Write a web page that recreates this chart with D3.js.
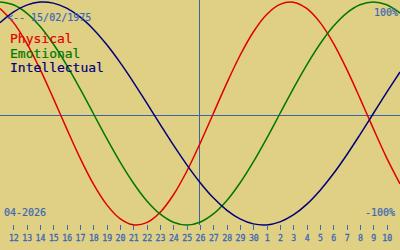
<!DOCTYPE html>
<html>
<head>
<meta charset="utf-8">
<script src="https://cdn.jsdelivr.net/npm/d3@7"></script>
<style>
  html, body { margin: 0; padding: 0; background: #e0d084; }
  svg { display: block; }
  text { font-family: "DejaVu Sans Mono", "Liberation Mono", monospace; }
</style>
</head>
<body>
<svg id="chart" width="400" height="250"></svg>
<script>
// Day labels along the x axis (April 12 .. May 10, 2026)
const dayLabels = ["12","13","14","15","16","17","18","19","20","21","22","23","24","25","26","27","28","29","30","1","2","3","4","5","6","7","8","9","10"];
// Sample positions (day index relative to first label; -1 and 29 are the off-axis edges)
const sampleIdx = [-1,0,1,2,3,4,5,6,7,8,9,10,11,12,13,14,15,16,17,18,19,20,21,22,23,24,25,26,27,28,29];
// Series values (fraction of 100%) per day
const physical = [0.942,0.817,0.631,0.398,0.136,-0.136,-0.398,-0.631,-0.817,-0.942,-0.998,-0.979,-0.888,-0.731,-0.520,-0.270,0.000,0.270,0.520,0.731,0.888,0.979,0.998,0.942,0.817,0.631,0.398,0.136,-0.136,-0.398,-0.631];
const emotional = [1.000,0.975,0.901,0.782,0.623,0.434,0.223,0.000,-0.223,-0.434,-0.623,-0.782,-0.901,-0.975,-1.000,-0.975,-0.901,-0.782,-0.623,-0.434,-0.223,0.000,0.223,0.434,0.623,0.782,0.901,0.975,1.000,0.975,0.901];
const intellectual = [0.815,0.910,0.972,0.999,0.990,0.945,0.866,0.756,0.618,0.458,0.282,0.095,-0.095,-0.282,-0.458,-0.618,-0.756,-0.866,-0.945,-0.990,-0.999,-0.972,-0.910,-0.815,-0.690,-0.541,-0.372,-0.189,0.000,0.189,0.372];
const seriesNames = ["Physical","Emotional","Intellectual"];
const todayIdx = 14; // 26 April
const birthLabel = "<-- 15/02/1975";
const monthLabel = "04-2026";
const topLabel = "100%";
const bottomLabel = "-100%";

const W = 400, H = 250;
const colors = ["#e00000", "#007800", "#00007c"];
const axisBlue = "#3a68b8";
const lineBlue = "#3a64a8";

const svg = d3.select("#chart");
svg.append("rect").attr("width", W).attr("height", H).attr("fill", "#e0d084");

const x = d3.scaleLinear().domain([-1, 29]).range([0, W]);
const y = d3.scaleLinear().domain([-1, 1]).range([225, 2]);

// zero line
svg.append("line")
  .attr("x1", 0).attr("x2", W)
  .attr("y1", Math.round(y(0)) + 1.5).attr("y2", Math.round(y(0)) + 1.5)
  .attr("stroke", lineBlue).attr("stroke-width", 1)
  .attr("shape-rendering", "crispEdges");

// today line
svg.append("line")
  .attr("x1", Math.round(x(todayIdx)) - 0.5).attr("x2", Math.round(x(todayIdx)) - 0.5)
  .attr("y1", 0).attr("y2", 225)
  .attr("stroke", lineBlue).attr("stroke-width", 1)
  .attr("shape-rendering", "crispEdges");

// curves
const line = d3.line()
  .x((d, i) => x(sampleIdx[i]))
  .y(d => y(d))
  .curve(d3.curveCatmullRom.alpha(0.5));

[physical, emotional, intellectual].forEach((vals, si) => {
  svg.append("path")
    .attr("d", line(vals))
    .attr("fill", "none")
    .attr("stroke", colors[si])
    .attr("stroke-width", 1.5);
});

// x axis ticks and labels
const axisG = svg.append("g").attr("transform", "translate(0,225)");
const axis = d3.axisBottom(x)
  .tickValues(d3.range(dayLabels.length))
  .tickFormat(i => dayLabels[i])
  .tickSize(5)
  .tickPadding(5);
axisG.call(axis);
axisG.select(".domain").remove();
axisG.selectAll(".tick line").attr("stroke", axisBlue).attr("stroke-width", 1.2).attr("shape-rendering", "crispEdges");
axisG.selectAll(".tick text")
  .attr("fill", axisBlue)
  .attr("stroke", axisBlue).attr("stroke-width", 0.3)
  .attr("font-family", "DejaVu Sans Mono, monospace")
  .attr("font-size", 8.2);

// legend
seriesNames.forEach((name, i) => {
  svg.append("text")
    .attr("x", 10).attr("y", 43 + i * 14.7)
    .attr("font-size", 13)
    .attr("fill", colors[i])
    .attr("stroke", colors[i]).attr("stroke-width", 0.2)
    .text(name);
});

// labels
const lab = (tx, ty, anchor, s) => svg.append("text").attr("x", tx).attr("y", ty)
  .attr("font-size", 10).attr("fill", axisBlue)
  .attr("stroke", axisBlue).attr("stroke-width", 0.2)
  .attr("text-anchor", anchor).text(s);
lab(7, 21, "start", birthLabel);
lab(4, 216, "start", monthLabel);
lab(398, 16, "end", topLabel);
lab(395, 216, "end", bottomLabel);
</script>
</body>
</html>
